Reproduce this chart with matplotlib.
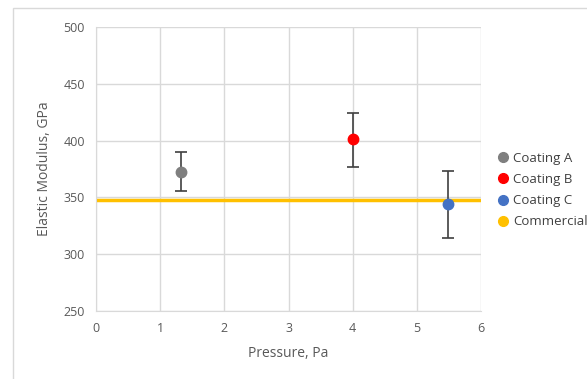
import matplotlib.pyplot as plt
from matplotlib.patches import Rectangle

plt.rcParams['font.family'] = ['Open Sans', 'DejaVu Sans']

# data
coatings = ['Coating A', 'Coating B', 'Coating C']
pressure = [1.32, 4.0, 5.48]
modulus = [372, 401, 344]
err_hi = [390, 424, 373]
err_lo = [356, 377, 314]
colors = ['#7f7f7f', '#ff0000', '#4472c4']
commercial_x = [0, 6]
commercial_y = [348, 348]

fig = plt.figure(figsize=(5.87, 3.79), dpi=100)
ax = fig.add_axes([96/587, 1-311/379, (481-96)/587, (311-27)/379])

# outer chart border like the spreadsheet frame
fig.patches.append(Rectangle((13/587, -0.1), 1.2, 1 - 8/379 + 0.1, transform=fig.transFigure,
                             fill=False, edgecolor='#d9d9d9', linewidth=1))

ax.plot(commercial_x, commercial_y, color='#ffc000', linewidth=2.5, zorder=2, label='Commercial')
for p, m, hi, lo, c, name in zip(pressure, modulus, err_hi, err_lo, colors, coatings):
    ax.errorbar([p], [m], yerr=[[m - lo], [hi - m]], fmt='none', ecolor='#404040',
                elinewidth=1.2, capsize=4, capthick=1.2, zorder=3)
    ax.plot([p], [m], 'o', color=c, markersize=7.5, zorder=4, label=name)

ax.set_xlim(0, 6)
ax.set_ylim(250, 500)
ax.set_xticks(range(0, 7))
ax.set_yticks(range(250, 501, 50))
ax.grid(True, color='#d9d9d9', linewidth=1)
ax.set_axisbelow(True)
for s in ['top', 'right']:
    ax.spines[s].set_visible(False)
for s in ['left', 'bottom']:
    ax.spines[s].set_color('#d9d9d9')
ax.tick_params(length=0, colors='#595959', labelsize=9, pad=8)
ax.set_xlabel('Pressure, Pa', color='#595959', fontsize=10, labelpad=8)
ax.set_ylabel('Elastic Modulus, GPa', color='#595959', fontsize=10, labelpad=8)

h, l = ax.get_legend_handles_labels()
order = [1, 2, 3, 0]
leg = ax.legend([h[i] for i in order], [l[i] for i in order], loc='upper left',
                bbox_to_anchor=(486/587, 1-140/379), bbox_transform=fig.transFigure,
                frameon=False, fontsize=9.5, handlelength=0.8, handletextpad=0.35,
                labelspacing=0.62, labelcolor='#404040')
for lh in leg.legend_handles:
    lh.set_marker('o')
    lh.set_linestyle('none')
    lh.set_markersize(7)
leg.legend_handles[3].set_color('#ffc000')

fig.savefig('out.png', dpi=100)
